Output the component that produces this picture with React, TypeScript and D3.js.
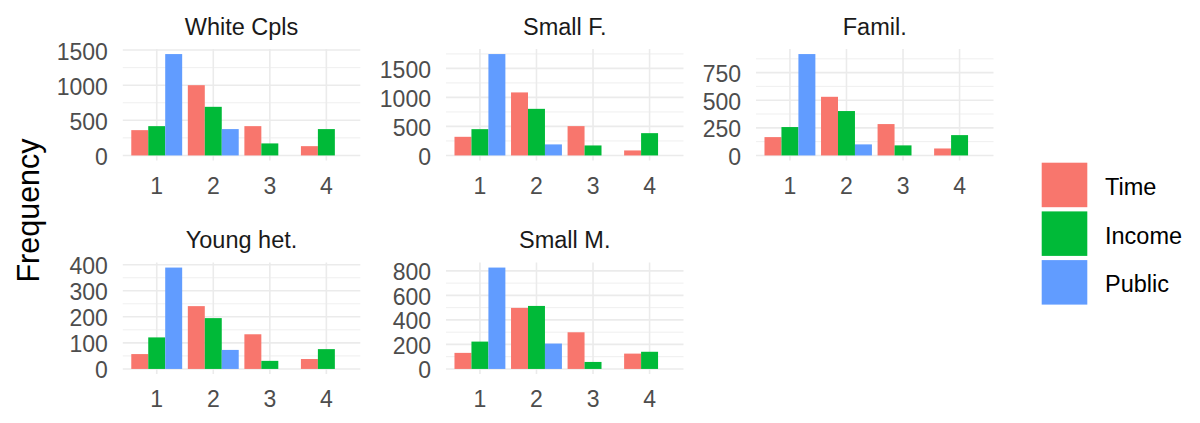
import React, { useEffect } from "react";
import * as d3 from "d3";

// facet data: one row per panel, one value per x category
const panelTitles = ["White Cpls", "Small F.", "Famil.", "Young het.", "Small M."];
const categories = ["1", "2", "3", "4"];
const seriesNames = ["Time", "Income", "Public"];
const seriesColors = ["#F8766D", "#00BA38", "#619CFF"];

const timeCounts = [
  [360, 1000, 417, 132],
  [321, 1086, 505, 86],
  [166, 531, 284, 63],
  [57, 241, 133, 38],
  [131, 498, 299, 125],
];
const incomeCounts = [
  [417, 692, 171, 375],
  [453, 803, 172, 384],
  [257, 402, 91, 184],
  [121, 195, 31, 76],
  [223, 514, 57, 140],
];
const publicCounts = [
  [1443, 375, 0, 0],
  [1747, 190, 0, 0],
  [918, 100, 0, 0],
  [389, 73, 0, 0],
  [827, 207, 0, 0],
];
const yBreaks = [
  [0, 500, 1000, 1500],
  [0, 500, 1000, 1500],
  [0, 250, 500, 750],
  [0, 100, 200, 300, 400],
  [0, 200, 400, 600, 800],
];

const W = 1200;
const H = 423;
const colLefts = [122.8, 446, 756];
const rowTops = [49, 262.5];
const panelW = 237.5;
const panelH = 111.5;
const font = "'Liberation Sans', Arial, sans-serif";
const grid = "#EBEBEB";

function Panel({ idx }: { idx: number }) {
  const left = colLefts[idx % 3];
  const top = rowTops[Math.floor(idx / 3)];
  const series = [timeCounts[idx], incomeCounts[idx], publicCounts[idx]];
  const maxV = d3.max(series.flat()) ?? 0;

  const x = d3
    .scaleBand()
    .domain(categories)
    .range([left, left + panelW])
    .paddingInner(0.1)
    .paddingOuter(0.15);
  const xs = d3.scaleBand().domain(seriesNames).range([0, x.bandwidth()]);
  const y = d3
    .scaleLinear()
    .domain([-0.05 * maxV, 1.05 * maxV])
    .range([top + panelH, top]);

  const breaks = yBreaks[idx];
  const step = breaks[1] - breaks[0];
  const [d0, d1] = y.domain();
  const minor = d3
    .range(breaks[0] - step / 2, breaks[breaks.length - 1] + step, step)
    .filter((v) => v >= d0 && v <= d1);

  return (
    <g>
      {minor.map((v) => (
        <line key={"mi" + v} x1={left} x2={left + panelW} y1={y(v)} y2={y(v)} stroke={grid} strokeWidth={0.8} />
      ))}
      {breaks.map((v) => (
        <line key={"ma" + v} x1={left} x2={left + panelW} y1={y(v)} y2={y(v)} stroke={grid} strokeWidth={1.6} />
      ))}
      {categories.map((c) => {
        const cx = (x(c) ?? 0) + x.bandwidth() / 2;
        return <line key={"vx" + c} x1={cx} x2={cx} y1={top} y2={top + panelH} stroke={grid} strokeWidth={1.6} />;
      })}
      {series.map((vals, s) =>
        vals.map((v, i) =>
          v > 0 ? (
            <rect
              key={s + "-" + i}
              x={(x(categories[i]) ?? 0) + (xs(seriesNames[s]) ?? 0)}
              y={y(v)}
              width={xs.bandwidth()}
              height={y(0) - y(v)}
              fill={seriesColors[s]}
            />
          ) : null
        )
      )}
      {breaks.map((v) => (
        <text key={"yl" + v} x={left - 15} y={y(v) + 9.5} textAnchor="end" fontSize={23} fill="#4D4D4D" fontFamily={font}>
          {v}
        </text>
      ))}
      {categories.map((c) => (
        <text
          key={"xl" + c}
          x={(x(c) ?? 0) + x.bandwidth() / 2}
          y={top + panelH + 33}
          textAnchor="middle"
          fontSize={23}
          fill="#4D4D4D"
          fontFamily={font}
        >
          {c}
        </text>
      ))}
      <text x={left + panelW / 2} y={top - 14.5} textAnchor="middle" fontSize={23.5} fill="#1A1A1A" fontFamily={font}>
        {panelTitles[idx]}
      </text>
    </g>
  );
}

export default function App() {
  useEffect(() => {
    document.body.style.margin = "0";
  }, []);

  const legendTop = 162.7;
  const keyPitch = 48.7;

  return (
    <svg width={W} height={H} style={{ display: "block", background: "#fff" }}>
      <rect width={W} height={H} fill="#fff" />
      {panelTitles.map((_, i) => (
        <Panel key={i} idx={i} />
      ))}
      <text
        transform={`translate(39,210.5) rotate(-90)`}
        textAnchor="middle"
        fontSize={30.5}
        fill="#000"
        fontFamily={font}
      >
        Frequency
      </text>
      {seriesNames.map((name, i) => (
        <g key={name}>
          <rect x={1041.7} y={legendTop + i * keyPitch} width={45.6} height={44.5} fill={seriesColors[i]} />
          <text
            x={1105}
            y={legendTop + i * keyPitch + 22.25 + 10}
            fontSize={23.5}
            fill="#000"
            fontFamily={font}
          >
            {name}
          </text>
        </g>
      ))}
    </svg>
  );
}
